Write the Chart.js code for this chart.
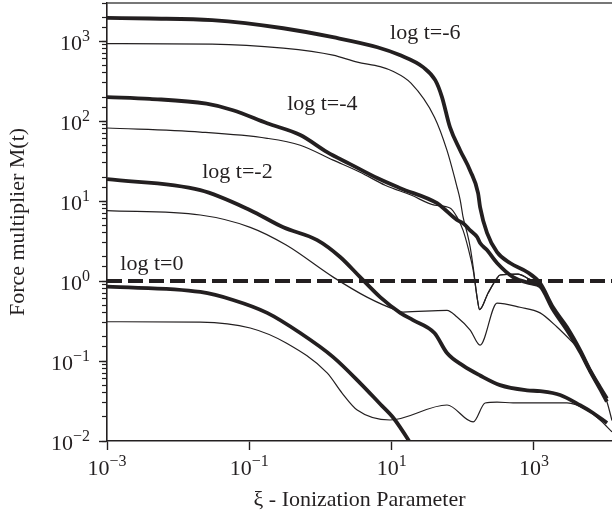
<!DOCTYPE html>
<html>
<head>
<meta charset="utf-8">
<title>Force multiplier vs ionization parameter</title>
<script src="https://cdn.jsdelivr.net/npm/chart.js@4.4.1/dist/chart.umd.min.js"></script>
<style>
  html, body { margin: 0; padding: 0; background: #fff; }
  #chart { display: block; }
</style>
</head>
<body>
<canvas id="chart" width="612" height="518"></canvas>
<script>
// log t = -6
const xiThick6 = [0.001, 0.004, 0.03, 0.3, 1.5, 6.3, 13, 28, 41, 51, 66, 92, 127, 164, 175, 219, 303, 462, 800, 1220, 1850, 2900, 4450, 6140, 8480, 10600];
const mThick6  = [1950, 1920, 1830, 1450, 1120, 840, 670, 470, 325, 200, 84, 43, 24, 12.6, 8.4, 4.0, 2.3, 1.68, 1.3, 0.94, 0.47, 0.266, 0.137, 0.077, 0.047, 0.034];
const xiThin6  = [0.001, 0.03, 0.3, 1.5, 3.3, 6.9, 10.4, 18.7, 40, 60, 83, 92, 101, 115, 127, 140, 160, 172, 227, 303, 334, 598, 800, 1220, 1850, 2900, 4450, 6140, 8480, 10600];
const mThin6   = [930, 920, 817, 668, 546, 480, 420, 298, 112, 43, 15, 10.3, 6.3, 4.0, 2.66, 1.5, 0.6, 0.44, 0.71, 1.09, 1.19, 1.22, 1.09, 0.86, 0.46, 0.26, 0.135, 0.076, 0.046, 0.033];

// log t = -4
const xiThick4 = [0.001, 0.004, 0.025, 0.059, 0.178, 0.52, 1.24, 2.61, 6.26, 13.2, 43.6, 53, 83, 101, 127, 159, 175, 219, 303, 509, 881, 1220, 1850, 2900, 4450, 6140, 8480, 10600];
const mThick4  = [200, 190, 165, 137, 94, 67, 41, 29, 19.4, 14.5, 9.4, 8.2, 5.8, 5.3, 4.3, 3.55, 2.99, 2.44, 1.68, 1.12, 0.94, 0.86, 0.44, 0.244, 0.13, 0.075, 0.045, 0.031];
const xiThin4  = [0.001, 0.0205, 0.178, 0.52, 1.51, 3.61, 8.1, 18.7, 40, 66, 83, 101, 119, 140, 160, 172, 227, 303, 334, 598, 800, 1220, 1850, 2900, 4450, 6140, 8480, 10600];
const mThin4   = [82, 73, 61, 50, 32.5, 23, 15.8, 11.9, 8.9, 8.2, 6.3, 4.3, 2.58, 1.37, 0.6, 0.44, 0.71, 1.09, 1.19, 1.22, 1.09, 0.86, 0.46, 0.26, 0.135, 0.076, 0.046, 0.033];

// log t = -2
const xiThick2 = [0.001, 0.0205, 0.103, 0.3, 0.9, 1.89, 3.61, 6.9, 13.2, 20, 40, 60, 101, 175, 334, 800, 1220, 2330, 4450, 6770, 10640];
const mThick2  = [18.8, 13.7, 7.7, 4.7, 3.25, 2.0, 1.12, 0.63, 0.40, 0.325, 0.224, 0.126, 0.0875, 0.066, 0.05, 0.043, 0.042, 0.0376, 0.028, 0.0224, 0.0168];
const xiThin2  = [0.001, 0.0205, 0.103, 0.33, 1.51, 4.5, 11.9, 14.5, 60, 83, 127, 175, 303, 638, 1220, 2110, 4030, 4450, 6140, 8480, 10600, 12500];
const mThin2   = [7.6, 6.7, 4.7, 2.82, 1.12, 0.63, 0.43, 0.41, 0.43, 0.355, 0.244, 0.158, 0.53, 0.47, 0.40, 0.266, 0.15, 0.137, 0.077, 0.047, 0.031, 0.018];

// log t = 0
const xiThick0 = [0.001, 0.0205, 0.059, 0.178, 0.52, 1.51, 3.61, 6.9, 10.6, 17.6, 21];
const mThick0  = [0.85, 0.73, 0.58, 0.40, 0.224, 0.112, 0.053, 0.029, 0.0194, 0.01, 0.0077];
const xiThin0  = [0.001, 0.0205, 0.103, 0.33, 1.24, 2.0, 3.28, 9.5, 60, 140, 206, 303, 509, 2918, 5572, 8480, 12500];
const mThin0   = [0.31, 0.307, 0.259, 0.168, 0.071, 0.04, 0.0244, 0.0183, 0.0282, 0.0173, 0.0299, 0.0307, 0.0299, 0.0299, 0.0244, 0.0183, 0.013];

// M = 1 reference line
const xiUnity = [0.001, 12500];
const mUnity  = [1, 1];

const curveNames = ["log t=-6", "log t=-4", "log t=-2", "log t=0"];
const labelXi    = [9.5, 0.34, 0.0218, 0.00154];
const labelM     = [1260, 163, 23, 1.63];

const xTickExps = [-3, -1, 1, 3];
const yTickExps = [-2, -1, 0, 1, 2, 3];

const ink = "#231f20";
const serif = "'Liberation Serif', 'DejaVu Serif', serif";

function decade(v) {
    const e = Math.log10(v);
    const r = Math.round(e);
    return Math.abs(e - r) < 1e-6 ? r : null;
}

function expText(e) {
    return String(e).replace("-", "\u2212");
}

function pts(xs, ys) {
    return xs.map((x, i) => ({ x: x, y: ys[i] }));
}

function curve(xs, ys, width, dash) {
    return {
        data: pts(xs, ys),
        borderColor: ink,
        borderWidth: width,
        borderDash: dash || [],
        pointRadius: 0,
        fill: false,
        cubicInterpolationMode: "monotone",
        clip: 0
    };
}

// "10" dengan pangkat kecil di atasnya
function drawPower(ctx, e, x, baseline, align) {
    ctx.font = "22px " + serif;
    const wb = ctx.measureText("10").width;
    ctx.font = "16px " + serif;
    const we = ctx.measureText(expText(e)).width;
    const left = align === "right" ? x - wb - we : x - (wb + we) / 2;
    ctx.font = "22px " + serif;
    ctx.fillText("10", left, baseline);
    ctx.font = "16px " + serif;
    ctx.fillText(expText(e), left + wb, baseline - 9);
}

const powerLabels = {
    id: "powerLabels",
    afterDraw(chart) {
        const ctx = chart.ctx;
        const xs = chart.scales.x, ys = chart.scales.y;
        ctx.save();
        ctx.fillStyle = ink;
        ctx.textAlign = "left";
        ctx.textBaseline = "alphabetic";
        xTickExps.forEach(e => {
            drawPower(ctx, e, xs.getPixelForValue(Math.pow(10, e)), xs.top + 34, "center");
        });
        yTickExps.forEach(e => {
            drawPower(ctx, e, ys.right - 17, ys.getPixelForValue(Math.pow(10, e)) + 8.5, "right");
        });
        ctx.restore();
    }
};

// Tulisan "log t=..." di samping kurva
const curveLabels = {
    id: "curveLabels",
    afterDatasetsDraw(chart) {
        const ctx = chart.ctx;
        const xs = chart.scales.x, ys = chart.scales.y;
        ctx.save();
        ctx.fillStyle = ink;
        ctx.font = "22px " + serif;
        ctx.textAlign = "left";
        ctx.textBaseline = "middle";
        curveNames.forEach((name, i) => {
            ctx.fillText(name, xs.getPixelForValue(labelXi[i]), ys.getPixelForValue(labelM[i]));
        });
        ctx.restore();
    }
};

// Garis bingkai atas
const frameTop = {
    id: "frameTop",
    afterDraw(chart) {
        const a = chart.chartArea, ctx = chart.ctx;
        ctx.save();
        ctx.strokeStyle = "#4a4a4a";
        ctx.lineWidth = 1.5;
        ctx.beginPath();
        ctx.moveTo(a.left, a.top);
        ctx.lineTo(a.right, a.top);
        ctx.stroke();
        ctx.restore();
    }
};

const chart = new Chart(document.getElementById("chart"), {
    type: "line",
    data: {
        datasets: [
            curve(xiUnity, mUnity, 4, [15, 6]),
            curve(xiThin6, mThin6, 1.2),
            curve(xiThin4, mThin4, 1.2),
            curve(xiThin2, mThin2, 1.2),
            curve(xiThin0, mThin0, 1.2),
            curve(xiThick6, mThick6, 3.8),
            curve(xiThick4, mThick4, 3.8),
            curve(xiThick2, mThick2, 3.8),
            curve(xiThick0, mThick0, 3.8)
        ]
    },
    options: {
        responsive: false,
        animation: false,
        devicePixelRatio: 1,
        layout: { padding: { top: 3, right: 0, bottom: 0, left: 0 } },
        plugins: {
            legend: { display: false },
            tooltip: { enabled: false }
        },
        scales: {
            x: {
                type: "logarithmic",
                position: "bottom",
                min: 0.001,
                max: 12500,
                border: { display: true, color: ink, width: 1.6 },
                grid: {
                    drawOnChartArea: false,
                    drawTicks: true,
                    tickLength: 9,
                    tickWidth: 1.4,
                    tickColor: c => (c.tick && xTickExps.includes(decade(c.tick.value))) ? ink : "rgba(0,0,0,0)"
                },
                ticks: { display: false, autoSkip: false },
                title: {
                    display: true,
                    text: "\u03be - Ionization Parameter",
                    color: ink,
                    font: { family: serif, size: 22 },
                    padding: { top: 0, bottom: 5 }
                },
                afterFit: s => { s.height = 77; s.paddingLeft = 0; s.paddingRight = 0; }
            },
            y: {
                type: "logarithmic",
                position: "left",
                weight: 1,
                min: 0.01,
                max: 3000,
                border: { display: true, color: ink, width: 1.6 },
                grid: {
                    drawOnChartArea: false,
                    drawTicks: true,
                    tickLength: 8,
                    tickWidth: 1.4,
                    tickColor: c => (c.tick && yTickExps.includes(decade(c.tick.value))) ? ink : "rgba(0,0,0,0)"
                },
                ticks: { display: false, autoSkip: false },
                title: {
                    display: true,
                    text: "Force multiplier M(t)",
                    color: ink,
                    font: { family: serif, size: 22 },
                    padding: { top: 5, bottom: 0 }
                },
                afterFit: s => { s.width = 107; s.paddingTop = 0; s.paddingBottom = 0; }
            },
            yMinor: {
                type: "logarithmic",
                position: "left",
                weight: 0,
                min: 0.01,
                max: 3000,
                border: { display: false },
                grid: {
                    drawOnChartArea: false,
                    drawTicks: true,
                    tickLength: 5,
                    tickWidth: 1.2,
                    tickColor: ink
                },
                ticks: { display: false, autoSkip: false },
                afterFit: s => { s.width = 0; s.paddingTop = 0; s.paddingBottom = 0; }
            }
        }
    },
    plugins: [curveLabels, frameTop, powerLabels]
});
</script>
</body>
</html>
